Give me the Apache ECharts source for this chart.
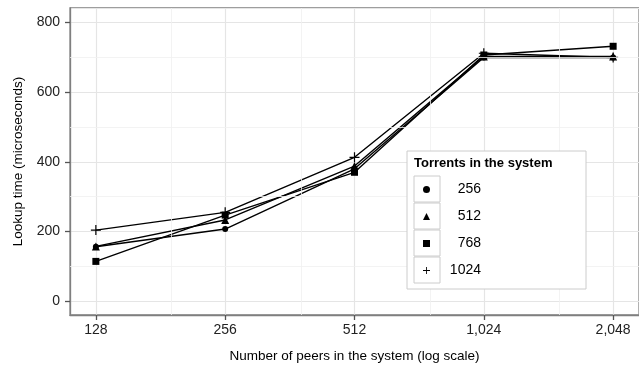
<!DOCTYPE html>
<html>
<head>
<meta charset="utf-8">
<script src="https://cdn.jsdelivr.net/npm/echarts@6/dist/echarts.min.js"></script>
<style>
html,body{margin:0;padding:0;background:#fff;}
#chart{width:639px;height:370px;}
</style>
</head>
<body>
<div id="chart"></div>
<script>
// Data
var peers = [128, 256, 512, 1024, 2048];
var torrents256 = [156, 207, 380, 700, 700];
var torrents512 = [157, 233, 388, 703, 703];
var torrents768 = [114, 247, 370, 707, 732];
var torrents1024 = [204, 255, 413, 712, 700];
var seriesNames = ['256', '512', '768', '1024'];
var xTickValues = [128, 256, 512, 1024, 2048];
var xMinorValues = [192, 384, 768, 1536];
var yTickValues = [0, 200, 400, 600, 800];
var yMinorValues = [100, 300, 500, 700];

var FONT = 'Liberation Sans, Arial, sans-serif';
var plusPath = 'path://M-0.12,-1 L0.12,-1 L0.12,-0.12 L1,-0.12 L1,0.12 L0.12,0.12 L0.12,1 L-0.12,1 L-0.12,0.12 L-1,0.12 L-1,-0.12 L-0.12,-0.12 Z';
var symbols = ['circle', 'triangle', 'rect', plusPath];
var sizes = [6, 8, 7, 10];
var allValues = [torrents256, torrents512, torrents768, torrents1024];

function pairs(vals) {
  return peers.map(function (p, i) { return [p, vals[i]]; });
}

var series = seriesNames.map(function (n, k) {
  return {
    name: n,
    type: 'line',
    data: pairs(allValues[k]),
    symbol: symbols[k],
    symbolSize: sizes[k],
    showAllSymbol: true,
    lineStyle: { color: '#000', width: 1.4 },
    itemStyle: { color: '#000' },
    z: 3,
    animation: false
  };
});

// minor grid lines (drawn through the axis scales)
series.push({
  name: 'minor',
  type: 'line',
  data: [],
  z: 1,
  silent: true,
  animation: false,
  markLine: {
    silent: true,
    symbol: 'none',
    animation: false,
    label: { show: false },
    lineStyle: { color: '#f0f0f0', width: 0.8, type: 'solid' },
    data: xMinorValues.map(function (v) { return { xAxis: v }; })
      .concat(yMinorValues.map(function (v) { return { yAxis: v }; }))
  }
});

var chart = echarts.init(document.getElementById('chart'), null, { renderer: 'canvas' });

var legendLeft = 423, legendTop = 176, rowH = 27;
var graphics = [
  { type: 'rect', shape: { x: 407, y: 151, width: 179, height: 138 },
    style: { fill: '#fff', stroke: '#cccccc', lineWidth: 1 }, z: 10 },
  { type: 'text', x: 414, y: 163,
    style: { text: 'Torrents in the system', font: 'bold 13px ' + FONT, fill: '#000', textVerticalAlign: 'middle', verticalAlign: 'middle' }, z: 12 }
];
seriesNames.forEach(function (n, i) {
  graphics.push({ type: 'rect', shape: { x: 414, y: legendTop + i * rowH, width: 26, height: 26 },
    style: { fill: '#fff', stroke: '#cccccc', lineWidth: 1 }, z: 11 });
});

chart.setOption({
  animation: false,
  backgroundColor: '#fff',
  grid: { left: 70, top: 8, right: -3, bottom: 55, show: true, borderColor: '#7f7f7f', borderWidth: 1.3, backgroundColor: 'transparent', containLabel: false },
  xAxis: {
    type: 'log',
    logBase: 2,
    min: Math.pow(2, 6.8),
    max: Math.pow(2, 11.2),
    name: 'Number of peers in the system (log scale)',
    nameLocation: 'middle',
    nameGap: 34,
    nameTextStyle: { fontFamily: FONT, fontSize: 13.5, color: '#000' },
    axisLine: { show: true, onZero: false, lineStyle: { color: '#7f7f7f', width: 1.3 } },
    axisTick: { show: true, inside: false, length: 5, lineStyle: { color: '#555', width: 1.3 } },
    axisLabel: { show: true, showMinLabel: false, showMaxLabel: false, fontFamily: FONT, fontSize: 14, color: '#222', margin: 8,
      formatter: function (v) { return Math.round(v).toLocaleString('en-US'); } },
    splitLine: { show: true, lineStyle: { color: '#e5e5e5', width: 1.2 } },
    minorTick: { show: false },
    minorSplitLine: { show: false }
  },
  yAxis: {
    type: 'value',
    min: -40,
    max: 842,
    name: 'Lookup time (microseconds)',
    nameLocation: 'middle',
    nameGap: 45,
    nameTextStyle: { fontFamily: FONT, fontSize: 13.5, color: '#000' },
    axisLine: { show: true, onZero: false, lineStyle: { color: '#7f7f7f', width: 1.3 } },
    axisTick: { show: true, inside: false, length: 5, lineStyle: { color: '#555', width: 1.3 } },
    axisLabel: { show: true, showMinLabel: false, showMaxLabel: false, fontFamily: FONT, fontSize: 14, color: '#222', margin: 10 },
    splitLine: { show: true, lineStyle: { color: '#e5e5e5', width: 1.2 } }
  },
  legend: {
    show: true,
    orient: 'vertical',
    left: legendLeft,
    top: legendTop,
    padding: 0,
    itemGap: 0,
    itemWidth: 7,
    itemHeight: 7,
    z: 20,
    selectedMode: false,
    data: seriesNames.map(function (n, i) { return { name: n, icon: symbols[i] }; }),
    itemStyle: { color: '#000' },
    formatter: function (name) { return '{a|' + name + '}'; },
    textStyle: {
      fontFamily: FONT, fontSize: 14, color: '#000',
      rich: { a: { width: 46, align: 'right', height: rowH, lineHeight: rowH, fontFamily: FONT, fontSize: 14, color: '#000' } }
    }
  },
  graphic: graphics,
  series: series
});
</script>
</body>
</html>
